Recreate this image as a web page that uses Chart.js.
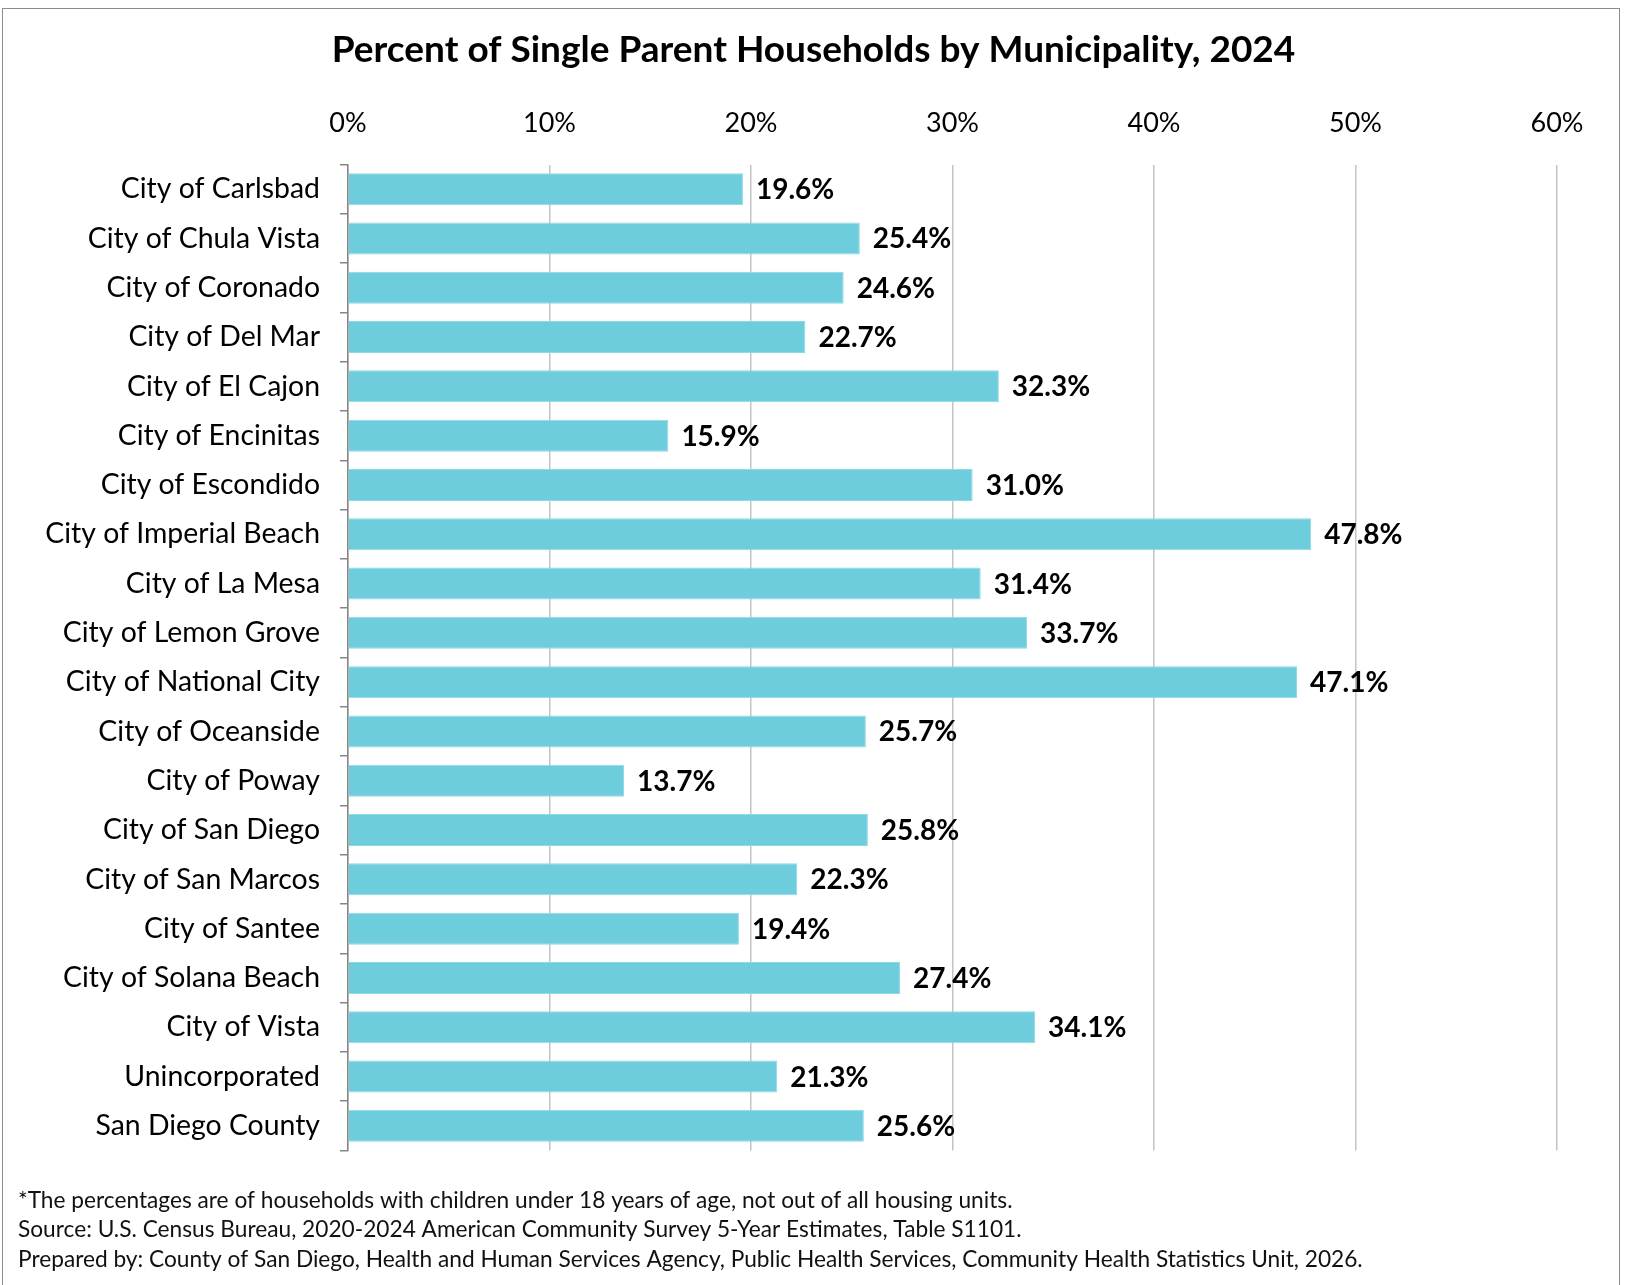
<!DOCTYPE html>
<html>
<head>
<meta charset="utf-8">
<script src="https://cdn.jsdelivr.net/npm/chart.js@4/dist/chart.umd.min.js"></script>
<style>
  html, body { margin: 0; padding: 0; background: #fff; overflow: hidden; }
  #frame { position: absolute; left: 2px; top: 8px; width: 1616px; height: 1300px; border: 1.5px solid #8c8c8c; }
  #wrap { position: absolute; left: 0; top: 0; width: 1627px; height: 1285px; }
</style>
</head>
<body>
<div id="frame"></div>
<div id="wrap"><canvas id="chart"></canvas></div>
<script>
const places = [
  "City of Carlsbad", "City of Chula Vista", "City of Coronado", "City of Del Mar",
  "City of El Cajon", "City of Encinitas", "City of Escondido", "City of Imperial Beach",
  "City of La Mesa", "City of Lemon Grove", "City of National City", "City of Oceanside",
  "City of Poway", "City of San Diego", "City of San Marcos", "City of Santee",
  "City of Solana Beach", "City of Vista", "Unincorporated", "San Diego County"
];
const percents = [19.6, 25.4, 24.6, 22.7, 32.3, 15.9, 31.0, 47.8, 31.4, 33.7,
                  47.1, 25.7, 13.7, 25.8, 22.3, 19.4, 27.4, 34.1, 21.3, 25.6];
const xTicks = [0, 10, 20, 30, 40, 50, 60];

const titleText = "Percent of Single Parent Households by Municipality, 2024";
const notes = [
  "*The percentages are of households with children under 18 years of age, not out of all housing units.",
  "Source: U.S. Census Bureau, 2020-2024 American Community Survey 5-Year Estimates, Table S1101.",
  "Prepared by: County of San Diego, Health and Human Services Agency, Public Health Services, Community Health Statistics Unit, 2026."
];

const FONT = "Lato";

// value labels at the end of each bar
const barLabels = {
  id: "barLabels",
  afterDatasetsDraw(chart) {
    const ctx = chart.ctx;
    ctx.save();
    ctx.font = "bold 28px " + FONT;
    ctx.fillStyle = "#000";
    ctx.textBaseline = "middle";
    ctx.textAlign = "left";
    chart.getDatasetMeta(0).data.forEach((bar, i) => {
      ctx.fillText(percents[i].toFixed(1) + "%", bar.x + 13, bar.y + 1);
    });
    ctx.restore();
  }
};

// footnotes under the chart
const footnotes = {
  id: "footnotes",
  afterDraw(chart) {
    const ctx = chart.ctx;
    ctx.save();
    ctx.font = "22.7px " + FONT;
    ctx.fillStyle = "#111";
    ctx.textBaseline = "middle";
    ctx.textAlign = "left";
    notes.forEach((line, i) => {
      ctx.fillText(line, 18, chart.chartArea.bottom + 50 + i * 29.5);
    });
    ctx.restore();
  }
};

new Chart(document.getElementById("chart"), {
  type: "bar",
  data: {
    labels: places,
    datasets: [{
      data: percents,
      backgroundColor: "#6ecddd",
      borderColor: "#8fd8e5",
      borderWidth: 1,
      categoryPercentage: 1,
      barPercentage: 0.65
    }]
  },
  options: {
    indexAxis: "y",
    responsive: true,
    maintainAspectRatio: false,
    animation: false,
    layout: { padding: { left: 0, right: 0, top: 0, bottom: 134.5 } },
    plugins: {
      legend: { display: false },
      tooltip: { enabled: false },
      title: {
        display: true,
        text: titleText,
        color: "#000",
        font: { family: FONT, size: 37, weight: "bold" },
        padding: { top: 28, bottom: 0 }
      }
    },
    scales: {
      x: {
        position: "top",
        min: 0,
        max: 60,
        afterBuildTicks: s => { s.ticks = xTicks.map(v => ({ value: v })); },
        afterFit: s => { s.height = 92.1; s.paddingRight = 70; },
        ticks: {
          callback: v => v + "%",
          color: "#000",
          font: { family: FONT, size: 27 },
          padding: 25,
          maxRotation: 0
        },
        grid: { color: "#c4c4c4", lineWidth: 1.5, drawTicks: false },
        border: { display: false }
      },
      y: {
        afterFit: s => { s.width = 348; },
        ticks: {
          color: "#000",
          font: { family: FONT, size: 28.4 },
          padding: 20,
          autoSkip: false
        },
        grid: { drawOnChartArea: false, drawTicks: true, tickLength: 8, color: "#868686", lineWidth: 1.5 },
        border: { display: true, color: "#868686", width: 1.5 }
      }
    }
  },
  plugins: [barLabels, footnotes]
});
</script>
</body>
</html>
